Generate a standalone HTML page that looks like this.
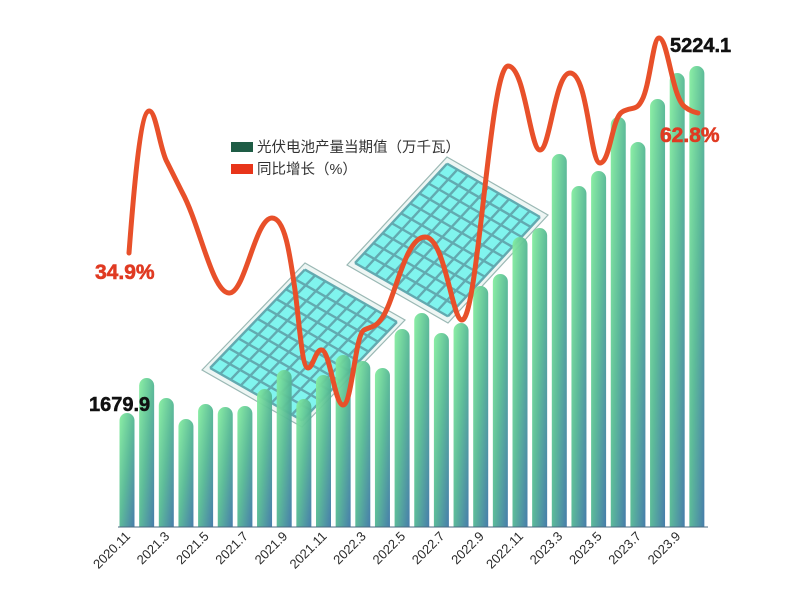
<!DOCTYPE html>
<html><head><meta charset="utf-8"><style>
html,body{margin:0;padding:0;background:#fff;width:800px;height:609px;overflow:hidden}
</style></head><body>
<svg width="800" height="609" viewBox="0 0 800 609" xmlns="http://www.w3.org/2000/svg" font-family="Liberation Sans, Noto Sans CJK SC, sans-serif">
<defs>
<linearGradient id="bg" x1="0" y1="0" x2="1" y2="1">
<stop offset="0" stop-color="#86eea0"/><stop offset="0.5" stop-color="#55b894"/><stop offset="1" stop-color="#3d76a6"/>
</linearGradient>
</defs>
<g id="panels"></g>
<g id="bars"></g>
<line x1="118" y1="527" x2="708" y2="527" stroke="#4a6a80" stroke-width="1"/>
<path d="M129,253 C133,200 140,112 149,111 C156,110 160,150 167,162 C172,172 176,180 182,192 C200,225 212,292 229,293 C245,294 255,218 272,218 C285,218 290,255 295,290 C299,320 302,368 308,368 C313,368 316,348 322,350 C330,352 335,405 343,405 C352,405 355,335 364,330 C372,326 375,328 382,318 C395,300 405,237 425,237 C445,237 452,320 462,320 C478,320 490,66 508,66 C525,66 530,150 540,150 C550,150 555,73 570,73 C588,73 590,163 600,163 C610,163 612,118 622,112 C632,106 636,112 642,100 C650,85 653,38 659,38 C668,38 672,98 685,107 C690,111 694,112 698,113" fill="none" stroke="#e8502a" stroke-width="5" stroke-linecap="round" stroke-linejoin="round"/>
<g font-size="13" fill="#2a2a2a" id="xl"></g>
<rect x="231" y="142" width="22" height="10" fill="#1e5c45"/>
<text x="257" y="152" font-size="14.5" fill="#333">光伏电池产量当期值（万千瓦）</text>
<rect x="231" y="164" width="22" height="10" fill="#e8351a"/>
<text x="257" y="174" font-size="14.5" fill="#333">同比增长（%）</text>
<text x="95" y="279" font-size="21" font-weight="bold" fill="#e03a22" stroke="#e03a22" stroke-width="0.6">34.9%</text>
<text x="660" y="142" font-size="21" font-weight="bold" fill="#e03a22" stroke="#e03a22" stroke-width="0.6">62.8%</text>
<text x="89" y="411" font-size="20" font-weight="bold" fill="#111" stroke="#111" stroke-width="0.5">1679.9</text>
<text x="670" y="52" font-size="20" font-weight="bold" fill="#111" stroke="#111" stroke-width="0.5">5224.1</text>
</svg>
<script>
var NS="http://www.w3.org/2000/svg";
function el(t,a,p){var e=document.createElementNS(NS,t);for(var k in a)e.setAttribute(k,a[k]);p.appendChild(e);return e;}
var P=document.getElementById("panels");
function panel(L,T,R){var B=[L[0]+R[0]-T[0],L[1]+R[1]-T[1]];
el("polygon",{points:[L,T,R,B].join(" "),fill:"#eef6f4",stroke:"#9ab8b4","stroke-width":1.2},P);
function lerp(a,b,t){return [a[0]+(b[0]-a[0])*t,a[1]+(b[1]-a[1])*t];}
var m=0.04;var L2=lerp(L,R,m),T2=lerp(T,B,m),R2=lerp(R,L,m),B2=lerp(B,T,m);
el("polygon",{points:[L2,T2,R2,B2].join(" "),fill:"#80f4ee"},P);
var n1=10,n2=9;
for(var i=0;i<=n1;i++){var a=lerp(L2,T2,i/n1),b=lerp(B2,R2,i/n1);el("line",{x1:a[0],y1:a[1],x2:b[0],y2:b[1],stroke:"#62aab0","stroke-width":2.4},P);}
for(var j=0;j<=n2;j++){var a=lerp(L2,B2,j/n2),b=lerp(T2,R2,j/n2);el("line",{x1:a[0],y1:a[1],x2:b[0],y2:b[1],stroke:"#62aab0","stroke-width":2.4},P);}
}
panel([202,370],[305,263],[405,320]);
panel([347,265],[447,157],[548,215]);
var tops=[413,378,398,419,404,407,406,389,370,399,375,355,361,368,329,313,333,323,286,274,237,228,154,186,171,117,142,99,73,66];
var G=document.getElementById("bars");
var labs=["2020.11","2021.3","2021.5","2021.7","2021.9","2021.11","2022.3","2022.5","2022.7","2022.9","2022.11","2023.3","2023.5","2023.7","2023.9"];
var XL=document.getElementById("xl");
for(var i=0;i<30;i++){var cx=127+19.65*i,w=15,t=tops[i];
el("path",{d:"M"+(cx-w/2)+",527 L"+(cx-w/2)+","+(t+w/2)+" A"+w/2+","+w/2+" 0 0 1 "+(cx+w/2)+","+(t+w/2)+" L"+(cx+w/2)+",527 Z",fill:"url(#bg)",opacity:0.95},G);
if(i%2==0){var tx=el("text",{x:cx+4,y:537,"text-anchor":"end",transform:"rotate(-45 "+(cx+4)+" 537)"},XL);tx.textContent=labs[i/2];}
}
</script>
</body></html>
